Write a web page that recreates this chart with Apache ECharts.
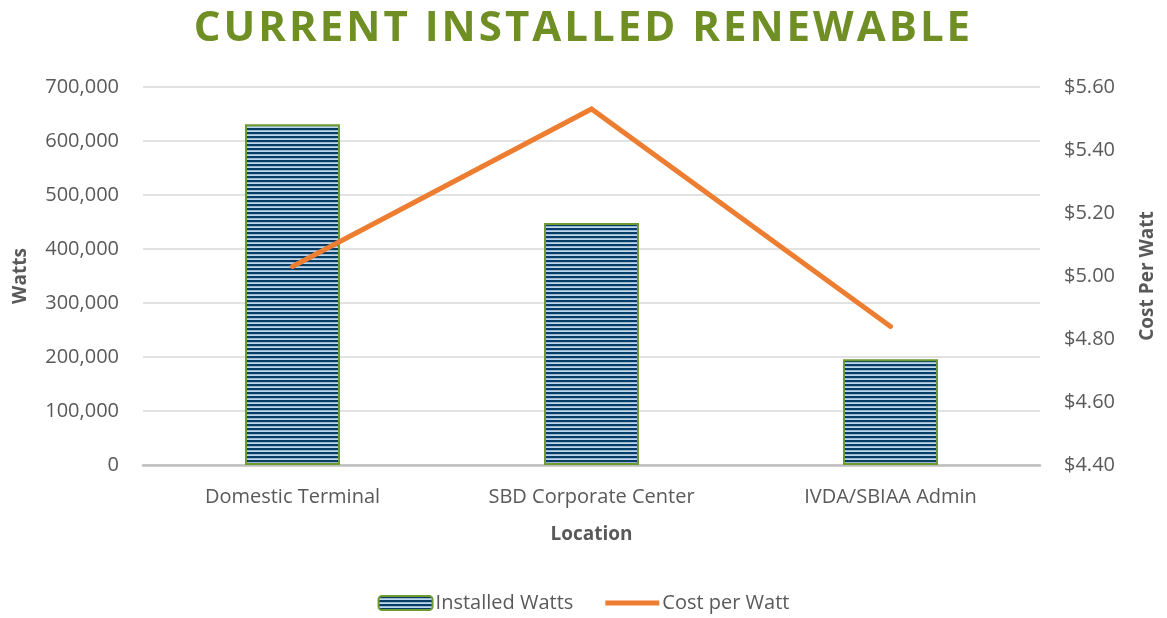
<!DOCTYPE html>
<html>
<head>
<meta charset="utf-8">
<script src="https://cdn.jsdelivr.net/npm/echarts@6/dist/echarts.min.js"></script>
<style>
  html, body { margin: 0; padding: 0; background: #fff; }
  #chart { width: 1167px; height: 618px; }
</style>
</head>
<body>
<div id="chart"></div>
<script>
// Sites with installed renewable capacity
const locations = ['Domestic Terminal', 'SBD Corporate Center', 'IVDA/SBIAA Admin'];
// Installed capacity in watts
const installedWatts = [631000, 448000, 196000];
// Installed cost per watt in dollars
const costPerWatt = [5.03, 5.53, 4.84];

// Wider letter tracking for the big heading text (canvas letterSpacing)
const TITLE_SIZE = 42;
const origFillText = CanvasRenderingContext2D.prototype.fillText;
CanvasRenderingContext2D.prototype.fillText = function (text, x, y, maxWidth) {
  const wide = this.font && this.font.indexOf(TITLE_SIZE + 'px') >= 0;
  const prev = this.letterSpacing;
  if (wide) this.letterSpacing = '3px';
  const r = maxWidth === undefined
    ? origFillText.call(this, text, x, y)
    : origFillText.call(this, text, x, y, maxWidth);
  if (wide) this.letterSpacing = prev;
  return r;
};

// Horizontal stripe fill for the capacity bars
function stripePattern() {
  const c = document.createElement('canvas');
  c.width = 8; c.height = 4;
  const ctx = c.getContext('2d');
  ctx.fillStyle = '#073c64';
  ctx.fillRect(0, 0, 8, 4);
  ctx.fillStyle = '#bcd7ee';
  ctx.fillRect(0, 2.2, 8, 1.8);
  return c;
}
const stripes = { image: stripePattern(), repeat: 'repeat' };

const labelFont = '"Open Sans", sans-serif';
const textGrey = '#595959';
const barBorder = '#6f9a2f';

const chart = echarts.init(document.getElementById('chart'), null, { renderer: 'canvas' });
chart.setOption({
  animation: false,
  backgroundColor: '#ffffff',
  title: {
    text: 'CURRENT INSTALLED RENEWABLE',
    left: 'center',
    top: 3,
    textStyle: {
      fontFamily: labelFont,
      fontWeight: 'bold',
      fontSize: TITLE_SIZE,
      color: '#6f8f24'
    }
  },
  grid: { left: 143, right: 127, top: 87, bottom: 153 },
  legend: {
    bottom: 0,
    left: 'center',
    itemGap: 32,
    itemWidth: 54,
    itemHeight: 14,
    textStyle: { fontFamily: labelFont, fontSize: 20, color: textGrey, padding: [0, 0, 0, -2] },
    data: [
      { name: 'Installed Watts', itemStyle: { color: stripes, borderColor: barBorder, borderWidth: 2 } },
      {
        name: 'Cost per Watt',
        // thin horizontal bar, vertically centred in the 14px icon box
        icon: 'path://M0,0h0.01v0.01h-0.01z M0,4.5H54V9.5H0Z M0,14h0.01v0.01h-0.01z',
        itemStyle: { color: '#ed7d31', borderWidth: 0 }
      }
    ]
  },
  xAxis: {
    type: 'category',
    data: locations,
    name: 'Location',
    nameLocation: 'middle',
    nameGap: 60,
    nameTextStyle: { fontFamily: labelFont, fontWeight: 'bold', fontSize: 19, color: textGrey },
    axisLine: { lineStyle: { color: '#bfbfbf', width: 2.5 } },
    axisTick: { show: false },
    axisLabel: { fontFamily: labelFont, fontSize: 20, color: textGrey, margin: 22 }
  },
  yAxis: [
    {
      type: 'value',
      min: 0, max: 700000, interval: 100000,
      name: 'Watts',
      nameLocation: 'middle',
      nameGap: 113,
      nameTextStyle: { fontFamily: labelFont, fontWeight: 'bold', fontSize: 19, color: textGrey },
      axisLine: { show: false },
      axisTick: { show: false },
      splitLine: { lineStyle: { color: '#d9d9d9', width: 1.5 } },
      axisLabel: {
        fontFamily: labelFont, fontSize: 20, color: textGrey, margin: 24,
        formatter: v => v.toLocaleString('en-US')
      }
    },
    {
      type: 'value',
      min: 4.4, max: 5.6, interval: 0.2,
      name: 'Cost Per Watt',
      nameLocation: 'middle',
      nameGap: 98,
      nameRotate: 90,
      nameTextStyle: { fontFamily: labelFont, fontWeight: 'bold', fontSize: 19, color: textGrey },
      axisLine: { show: false },
      axisTick: { show: false },
      splitLine: { show: false },
      axisLabel: {
        fontFamily: labelFont, fontSize: 20, color: textGrey, margin: 24,
        formatter: v => '$' + v.toFixed(2)
      }
    }
  ],
  series: [
    {
      name: 'Installed Watts',
      type: 'bar',
      yAxisIndex: 0,
      data: installedWatts,
      barWidth: 95,
      itemStyle: { color: stripes, borderColor: barBorder, borderWidth: 2 }
    },
    {
      name: 'Cost per Watt',
      type: 'line',
      yAxisIndex: 1,
      data: costPerWatt,
      symbol: 'none',
      lineStyle: { color: '#ed7d31', width: 5, cap: 'round', join: 'miter' },
      itemStyle: { color: '#ed7d31' }
    }
  ]
});
</script>
</body>
</html>
